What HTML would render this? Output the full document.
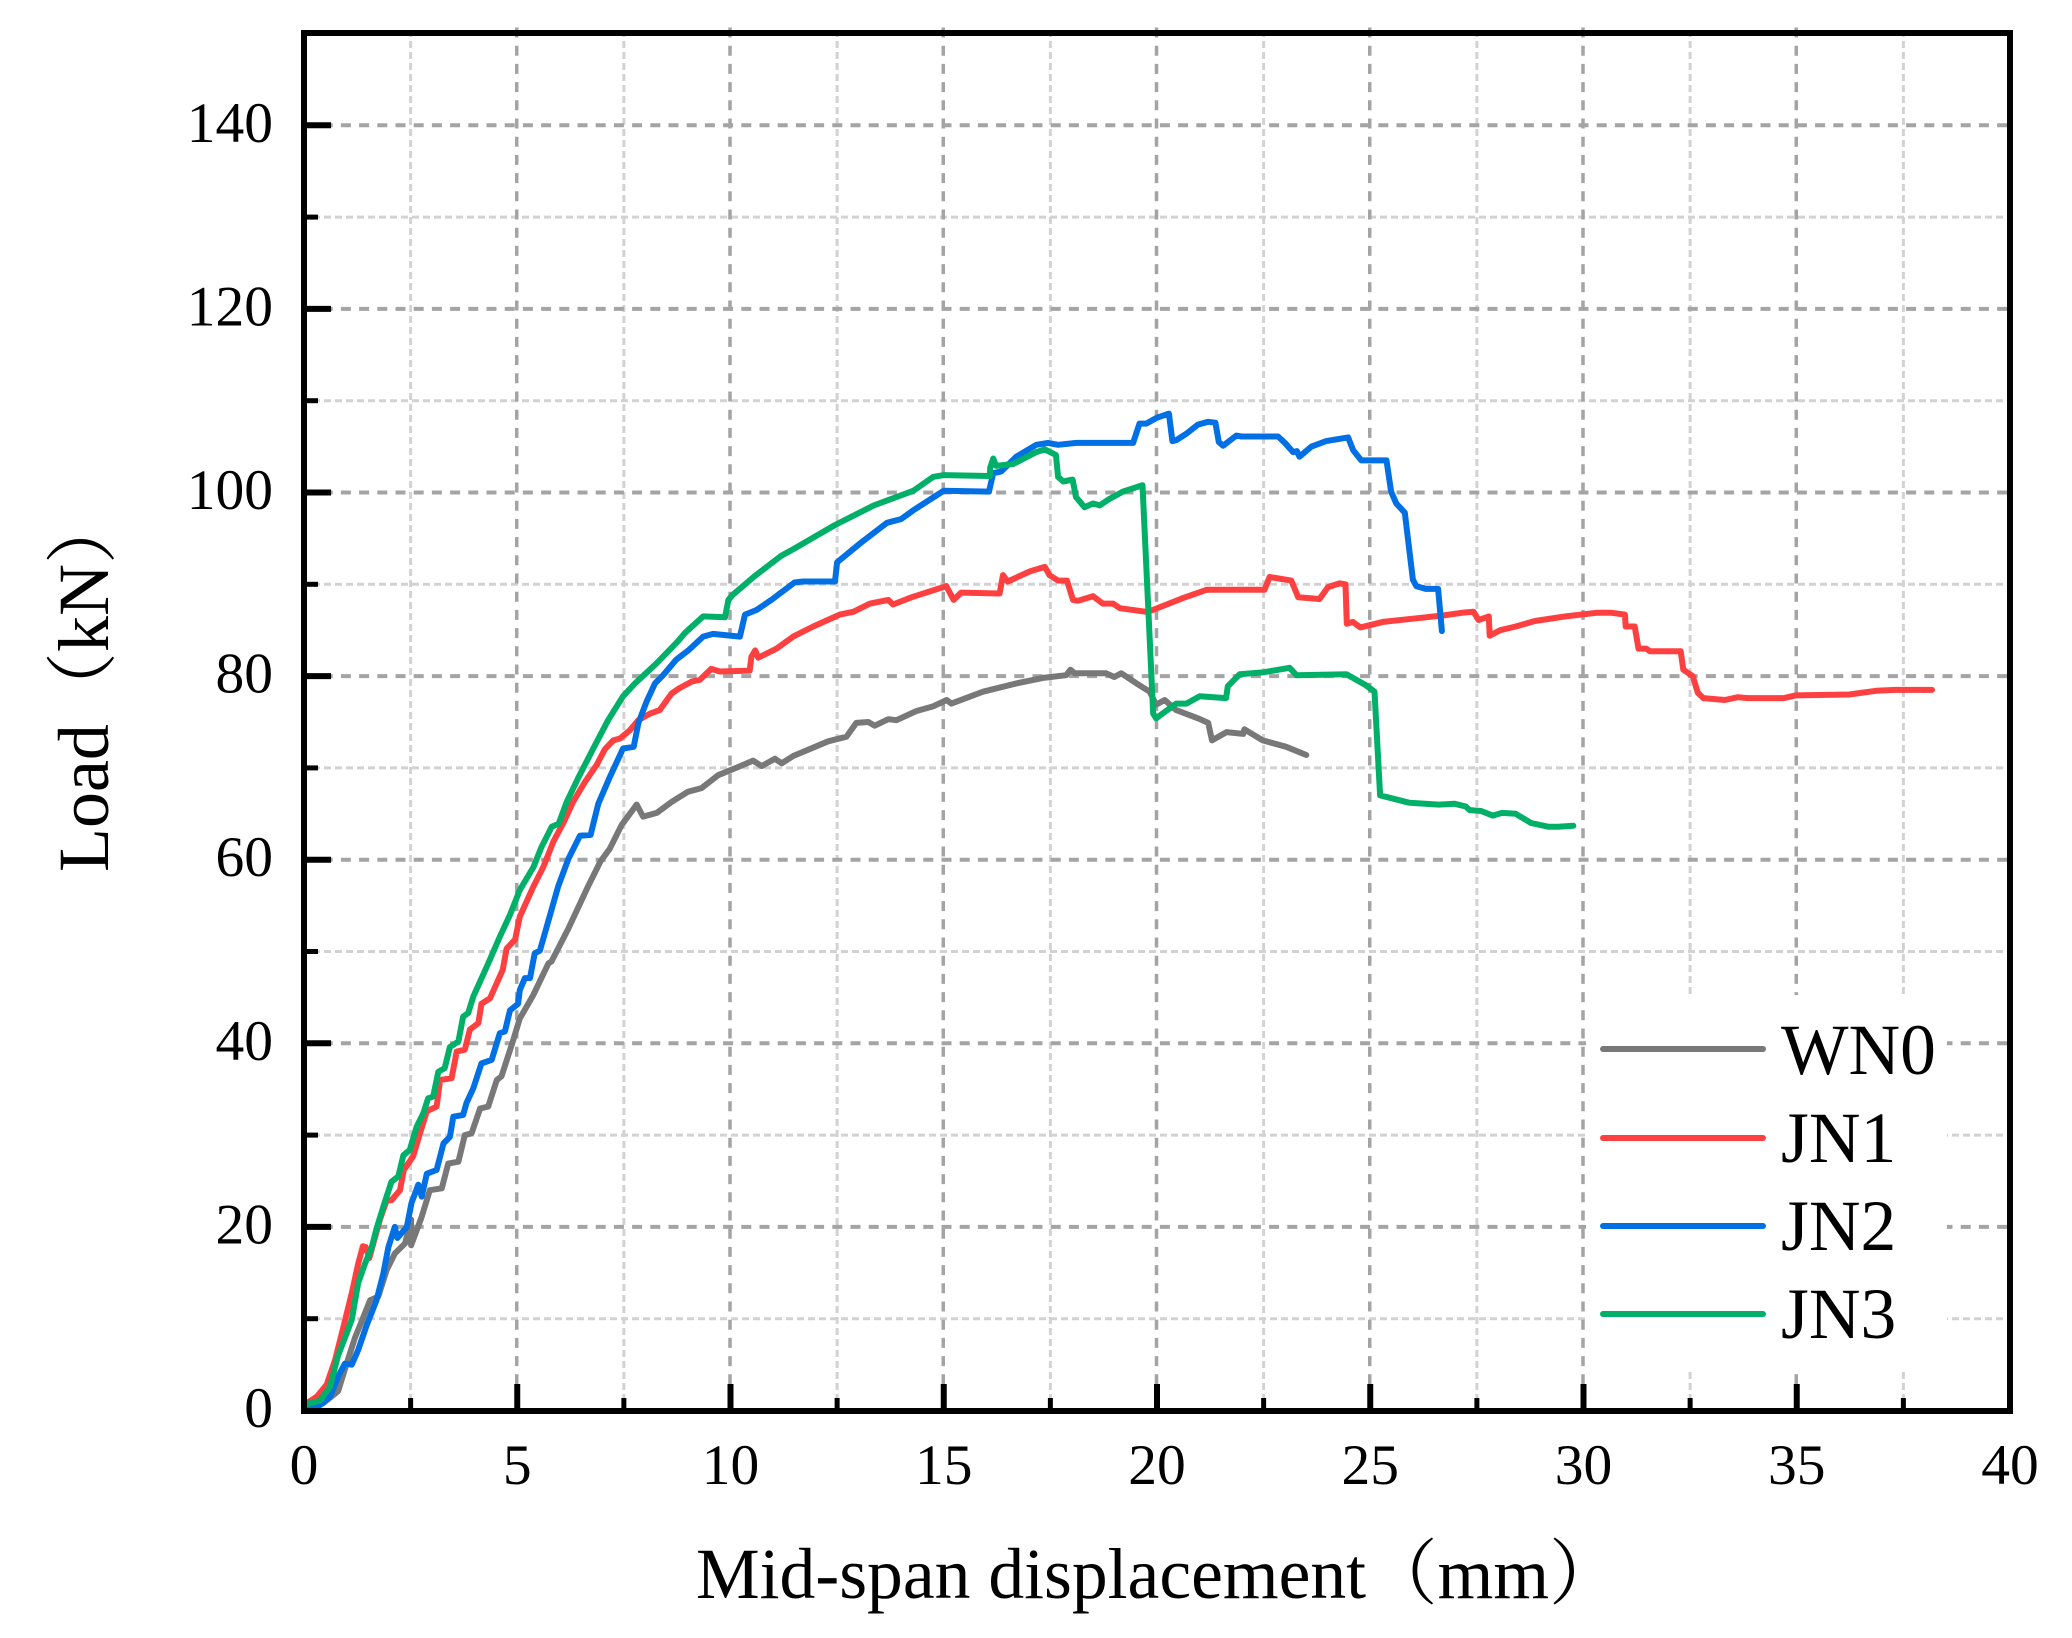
<!DOCTYPE html>
<html lang="en">
<head>
<meta charset="utf-8">
<title>Load vs mid-span displacement</title>
<style>
html,body{margin:0;padding:0;background:#fff;}
svg{display:block;}
text{font-family:"Liberation Serif","Noto Serif CJK SC",serif;fill:#000;}
</style>
</head>
<body>
<svg id="chart" xmlns="http://www.w3.org/2000/svg" width="2072" height="1638" viewBox="0 0 2072 1638">
  <rect x="0" y="0" width="2072" height="1638" fill="#fff"/>
  <g id="grid"></g>
  <rect x="1586" y="995" width="361" height="373" fill="#fff"/>
  <g id="series"></g>
  <g id="ticks"></g>
  <rect x="304" y="33" width="1706" height="1378" fill="none" stroke="#000" stroke-width="6"/>
  <g id="labels" font-size="57.5"></g>
  <text x="696" y="1598" font-size="71.6">Mid-span displacement（mm）</text>
  <text transform="translate(108 872) rotate(-90)" font-size="72">Load（kN）</text>
  <g>
    <line x1="1603" x2="1763" y1="1049" y2="1049" stroke="#787878" stroke-width="6" stroke-linecap="round"/>
    <text x="1781" y="1074" font-size="71.5">WN0</text>
    <line x1="1603" x2="1763" y1="1138" y2="1138" stroke="#ff4040" stroke-width="6" stroke-linecap="round"/>
    <text x="1781" y="1162" font-size="71.5">JN1</text>
    <line x1="1603" x2="1763" y1="1226" y2="1226" stroke="#0070e4" stroke-width="6" stroke-linecap="round"/>
    <text x="1781" y="1250" font-size="71.5">JN2</text>
    <line x1="1603" x2="1763" y1="1314" y2="1314" stroke="#00b068" stroke-width="6" stroke-linecap="round"/>
    <text x="1781" y="1338" font-size="71.5">JN3</text>
  </g>
</svg>
<script>
const xMajorTicks = [5, 10, 15, 20, 25, 30, 35];
const xMinorTicks = [2.5, 7.5, 12.5, 17.5, 22.5, 27.5, 32.5, 37.5];
const yMajorTicks = [20, 40, 60, 80, 100, 120, 140];
const yMinorTicks = [10, 30, 50, 70, 90, 110, 130];
const xTickLabels = ["0", "5", "10", "15", "20", "25", "30", "35", "40"];
const yTickLabels = ["0", "20", "40", "60", "80", "100", "120", "140"];

const wn0 = [[0,.3],[.45,.8],[.8,2.1],[1,5.1],[1.2,8],[1.35,9.7],[1.55,12],[1.74,12.4],[1.94,15.3],[2.13,17.1],[2.37,18.2],[2.51,20.8],[2.51,18],[2.76,21.1],[2.95,24],[3.23,24.2],[3.38,26.9],[3.62,27.1],[3.77,30],[3.93,30.2],[4.13,32.9],[4.32,33.1],[4.52,36],[4.63,36.4],[4.91,40.4],[5.06,42.7],[5.38,45.3],[5.73,48.7],[5.8,48.9],[6.2,52.5],[6.67,57.2],[6.95,59.8],[7.17,61.2],[7.45,63.8],[7.8,66],[7.95,64.7],[8.27,65.1],[8.62,66.3],[9,67.4],[9.32,67.8],[9.71,69.2],[10.18,70.1],[10.53,70.8],[10.73,70.2],[11.04,71],[11.2,70.5],[11.47,71.3],[12.29,72.9],[12.72,73.4],[12.95,74.9],[13.23,75],[13.38,74.6],[13.7,75.3],[13.89,75.2],[14.36,76.2],[14.75,76.7],[15.07,77.4],[15.18,77],[15.92,78.3],[16.7,79.2],[17.33,79.8],[17.87,80.1],[17.97,80.7],[18.07,80.3],[18.81,80.3],[19,79.9],[19.16,80.3],[19.52,79.2],[19.83,78.3],[19.98,76.9],[20.18,77.4],[20.45,76.3],[20.96,75.4],[21.2,74.9],[21.29,73],[21.63,73.9],[22.02,73.7],[22.05,74.2],[22.48,73],[23.03,72.3],[23.5,71.4]];

const jn1 = [[0,.6],[.3,1.5],[.53,2.8],[.73,5.5],[.92,9],[1.12,12.8],[1.27,16],[1.38,17.9],[1.45,17.8],[1.53,16.6],[1.78,20.8],[1.94,22.9],[2.05,22.9],[2.25,24],[2.34,26.2],[2.56,27.7],[2.72,30.2],[2.88,32.6],[3.11,33.1],[3.19,36],[3.46,36.2],[3.58,39.1],[3.77,39.3],[3.89,41.5],[4.09,42.2],[4.16,44.3],[4.36,44.9],[4.66,48],[4.75,50.3],[4.95,51.3],[5.06,53.8],[5.38,57.1],[5.61,59.2],[5.85,62],[6.08,64],[6.31,66.3],[6.59,68.5],[6.86,70.3],[7.05,72],[7.25,73],[7.41,73.2],[7.64,74.1],[7.84,75.2],[8.11,75.9],[8.34,76.3],[8.62,78.1],[8.81,78.7],[9.09,79.4],[9.28,79.6],[9.55,80.8],[9.75,80.5],[10.45,80.6],[10.49,82.1],[10.58,82.8],[10.65,82],[11.08,83],[11.47,84.3],[11.94,85.4],[12.56,86.7],[12.88,87],[13.27,87.9],[13.7,88.3],[13.81,87.8],[14.25,88.6],[15.06,89.8],[15.23,88.3],[15.41,89.1],[16.31,89],[16.39,91],[16.5,90.3],[17.02,91.4],[17.37,91.9],[17.48,91],[17.68,90.4],[17.89,90.4],[18.03,88.3],[18.15,88.2],[18.5,88.7],[18.73,87.9],[18.97,87.9],[19.13,87.4],[19.75,87],[19.9,87.2],[20.61,88.5],[21.16,89.4],[22.52,89.4],[22.64,90.8],[23.15,90.4],[23.31,88.6],[23.81,88.4],[24.01,89.7],[24.28,90.1],[24.42,90],[24.45,85.7],[24.59,85.9],[24.77,85.3],[25.3,85.9],[26.08,86.3],[26.7,86.6],[27.15,86.9],[27.42,87],[27.54,86.1],[27.78,86.5],[27.8,84.4],[28.05,85],[28.41,85.4],[28.86,86],[29.58,86.5],[30.3,86.9],[30.66,86.9],[30.97,86.7],[30.99,85.4],[31.2,85.4],[31.29,83],[31.47,83],[31.56,82.7],[32.28,82.7],[32.34,80.7],[32.56,80],[32.68,78.2],[32.81,77.6],[33.31,77.4],[33.62,77.7],[33.85,77.6],[34.7,77.6],[34.97,77.9],[36.23,78],[36.86,78.4],[37.31,78.5],[38.17,78.5]];

const jn2 = [[0,.4],[.38,.6],[.61,1.5],[.8,3.7],[.96,5.1],[1.12,5],[1.27,6.6],[1.47,9.3],[1.7,12],[1.86,14.9],[1.98,17.8],[2.13,20],[2.19,18.8],[2.41,20],[2.52,22.6],[2.68,24.6],[2.76,23.3],[2.88,25.8],[3.11,26.2],[3.27,29.1],[3.42,29.8],[3.5,32],[3.73,32.2],[3.81,33.5],[3.97,35.1],[4.16,37.8],[4.4,38.2],[4.59,41.1],[4.71,41.3],[4.83,43.6],[5.02,44.3],[5.06,45.8],[5.18,47.1],[5.3,47.1],[5.41,49.8],[5.53,50.1],[5.77,54],[5.96,57.1],[6.2,60.1],[6.47,62.6],[6.72,62.7],[6.9,66.1],[7.17,69],[7.48,72.1],[7.73,72.3],[7.84,74.9],[8.03,77.2],[8.23,79.2],[8.42,80.1],[8.73,81.8],[9.01,82.8],[9.36,84.3],[9.59,84.6],[10.22,84.3],[10.34,86.7],[10.61,87.2],[10.96,88.3],[11.5,90.2],[11.7,90.3],[12.45,90.3],[12.5,92.4],[13.05,94.5],[13.67,96.7],[14,97.1],[14.3,98.1],[15,100.2],[16.06,100.1],[16.16,102.1],[16.35,102.3],[16.7,103.9],[17.17,105.2],[17.44,105.4],[17.68,105.2],[18.11,105.4],[19.44,105.4],[19.59,107.5],[19.75,107.5],[19.98,108.1],[20.28,108.6],[20.36,105.6],[20.45,105.7],[20.69,106.4],[20.96,107.4],[21.2,107.7],[21.37,107.6],[21.45,105.5],[21.55,105.1],[21.86,106.2],[21.98,106.1],[22.84,106.1],[23,105.4],[23.19,104.4],[23.28,104.5],[23.34,103.9],[23.62,105],[23.97,105.6],[24.48,106],[24.6,104.6],[24.79,103.5],[25.38,103.5],[25.49,100.1],[25.61,98.8],[25.81,97.8],[26,90.5],[26.08,89.8],[26.3,89.5],[26.59,89.5],[26.68,84.9]];

const jn3 = [[0,.6],[.38,1.1],[.61,2.6],[.8,6],[1,8.4],[1.12,9.9],[1.27,13.9],[1.43,16],[1.59,17.8],[1.7,19.8],[1.86,22.2],[2.05,24.9],[2.21,25.5],[2.33,27.8],[2.48,28.4],[2.64,30.9],[2.8,32.4],[2.91,34],[3.03,34.2],[3.15,36.9],[3.3,37.3],[3.42,39.6],[3.62,40.2],[3.73,42.9],[3.85,43.3],[3.97,45.1],[4.3,48.5],[4.59,51.6],[4.83,54],[5.06,56.7],[5.38,59.2],[5.57,61.4],[5.81,63.6],[5.97,63.9],[6.16,66.3],[6.43,68.9],[6.78,72.1],[7.13,75.2],[7.48,77.8],[7.76,79.2],[8.27,81.4],[8.77,83.8],[8.93,84.7],[9.36,86.5],[9.87,86.4],[9.95,88.3],[10.04,88.8],[10.57,90.9],[11.19,93.1],[11.5,93.9],[12.43,96.4],[13.36,98.6],[14.29,100.2],[14.75,101.7],[15,101.9],[16.08,101.8],[16.09,102.7],[16.16,103.7],[16.23,102.9],[16.63,103.1],[17.17,104.4],[17.37,104.7],[17.63,104.1],[17.68,101.7],[17.8,101.2],[18.02,101.4],[18.1,99.5],[18.3,98.4],[18.5,98.8],[18.66,98.6],[18.85,99.2],[19.2,100.1],[19.66,100.8],[19.91,75.9],[19.98,75.4],[20.45,77],[20.69,77],[21,77.8],[21.62,77.6],[21.66,78.9],[21.94,80.2],[22.48,80.4],[23.11,80.9],[23.27,80.1],[24.44,80.2],[24.9,79],[25.1,78.3],[25.23,67],[25.92,66.2],[26.61,66],[26.97,66.1],[27.24,65.8],[27.33,65.4],[27.6,65.3],[27.87,64.8],[28.09,65.1],[28.41,65],[28.77,64],[29.17,63.6],[29.4,63.6],[29.76,63.7]];

const SVG_NS = "http://www.w3.org/2000/svg";
const xScale = v => 304 + 42.65 * v;
const yScale = v => 1410.5 - 9.18 * v;

function makeLine(parent, x1, y1, x2, y2, stroke, width, dash) {
  const el = document.createElementNS(SVG_NS, "line");
  el.setAttribute("x1", x1);
  el.setAttribute("y1", y1);
  el.setAttribute("x2", x2);
  el.setAttribute("y2", y2);
  el.setAttribute("stroke", stroke);
  el.setAttribute("stroke-width", width);
  if (dash) el.setAttribute("stroke-dasharray", dash);
  parent.appendChild(el);
  return el;
}

const grid = document.getElementById("grid");
const ticks = document.getElementById("ticks");
const labels = document.getElementById("labels");
const series = document.getElementById("series");

xMinorTicks.forEach(v => {
  const g = makeLine(grid, xScale(v), 30, xScale(v), 1408, "#d2d2d2", 3, "7 4");
  
  
  const t = makeLine(ticks, xScale(v), 1411, xScale(v), 1398, "#000", 5);
  
  
});
yMinorTicks.forEach(v => {
  const g = makeLine(grid, 302, yScale(v), 2007, yScale(v), "#d2d2d2", 3, "7 4");
  
  
  const t = makeLine(ticks, 304, yScale(v), 318, yScale(v), "#000", 5);
  
  
});
yMajorTicks.forEach(v => {
  const g = makeLine(grid, 304.5, yScale(v), 2007, yScale(v), "#a4a4a4", 4, "10 8.2");
  
  
  const t = makeLine(ticks, 304, yScale(v), 331, yScale(v), "#000", 6);
  
  
});
xMajorTicks.forEach(v => {
  const g = makeLine(grid, xScale(v) - 0.5, 27.5, xScale(v) - 0.5, 1408, "#a4a4a4", 3.5, "10 8.2");
  
  
  const t = makeLine(ticks, xScale(v), 1411, xScale(v), 1384, "#000", 6);
  
  
});

xTickLabels.forEach(s => {
  const el = document.createElementNS(SVG_NS, "text");
  
  
  el.setAttribute("x", xScale(Number(s)));
  el.setAttribute("y", 1484);
  el.setAttribute("text-anchor", "middle");
  el.textContent = s;
  labels.appendChild(el);
});
yTickLabels.forEach(s => {
  const el = document.createElementNS(SVG_NS, "text");
  
  
  el.setAttribute("x", 273);
  el.setAttribute("y", yScale(Number(s)) + 16.5);
  el.setAttribute("text-anchor", "end");
  el.textContent = s;
  labels.appendChild(el);
});

function drawSeries(points, color, name) {
  const el = document.createElementNS(SVG_NS, "polyline");
  el.setAttribute("points", points.map(p => xScale(p[0]).toFixed(1) + "," + yScale(p[1]).toFixed(1)).join(" "));
  el.setAttribute("fill", "none");
  el.setAttribute("stroke", color);
  el.setAttribute("stroke-width", 6);
  el.setAttribute("stroke-linejoin", "round");
  el.setAttribute("stroke-linecap", "round");
  
  
  series.appendChild(el);
}
drawSeries(wn0, "#787878", "series-wn0");
drawSeries(jn1, "#ff4040", "series-jn1");
drawSeries(jn2, "#0070e4", "series-jn2");
drawSeries(jn3, "#00b068", "series-jn3");
</script>
</body>
</html>
